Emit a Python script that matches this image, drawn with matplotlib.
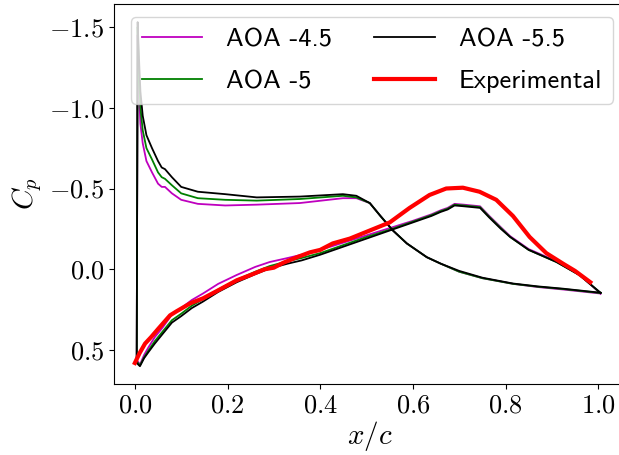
import matplotlib
matplotlib.use("Agg")
import matplotlib.pyplot as plt
import numpy as np

plt.rcParams['font.family'] = 'serif'
plt.rcParams['font.serif'] = ['cmr10']
plt.rcParams['mathtext.fontset'] = 'cm'
plt.rcParams['axes.formatter.use_mathtext'] = True
plt.rcParams['axes.unicode_minus'] = True

# suction side (x from leading-edge peak to trailing edge)
x_a = [0.006, 0.009, 0.012, 0.017, 0.025, 0.037, 0.05, 0.058, 0.065, 0.08, 0.1, 0.136,
       0.195, 0.263, 0.356, 0.449, 0.478, 0.507, 0.53, 0.557, 0.587, 0.63, 0.66, 0.7, 0.75,
       0.816, 0.87, 0.924, 1.005]
cp_a_45 = [-1.45, -1.1, -0.9, -0.78, -0.67, -0.6, -0.53, -0.51, -0.51, -0.47, -0.43, -0.405,
           -0.395, -0.4, -0.41, -0.44, -0.44, -0.41, -0.33, -0.24, -0.16, -0.075, -0.035, 0.015,
           0.055, 0.09, 0.11, 0.125, 0.15]
cp_a_5 = [-1.5, -1.2, -1.0, -0.86, -0.75, -0.68, -0.6, -0.57, -0.56, -0.52, -0.47, -0.44,
          -0.43, -0.425, -0.435, -0.455, -0.445, -0.41, -0.33, -0.24, -0.16, -0.075, -0.035,
          0.015, 0.055, 0.09, 0.108, 0.122, 0.147]
cp_a_55 = [-1.53, -1.3, -1.1, -0.95, -0.83, -0.75, -0.67, -0.63, -0.62, -0.57, -0.51, -0.48,
           -0.465, -0.445, -0.45, -0.465, -0.455, -0.41, -0.33, -0.24, -0.16, -0.075, -0.035,
           0.01, 0.052, 0.088, 0.106, 0.12, 0.145]

# pressure side (x from stagnation point to trailing edge)
x_b = [0.004, 0.011, 0.02, 0.03, 0.043, 0.06, 0.08, 0.1, 0.123, 0.147, 0.18, 0.22, 0.26,
       0.291, 0.33, 0.36, 0.4, 0.45, 0.5, 0.55, 0.6, 0.64, 0.66, 0.675, 0.69, 0.71, 0.745,
       0.765, 0.79, 0.81, 0.85, 0.91, 0.96, 1.005]
cp_b_45 = [0.56, 0.59, 0.53, 0.48, 0.42, 0.36, 0.28, 0.24, 0.19, 0.15, 0.09, 0.035, -0.015,
           -0.045, -0.07, -0.09, -0.12, -0.165, -0.21, -0.255, -0.3, -0.34, -0.365, -0.38,
           -0.405, -0.4, -0.39, -0.33, -0.26, -0.205, -0.125, -0.05, 0.035, 0.15]
cp_b_5 = [0.57, 0.595, 0.545, 0.5, 0.445, 0.385, 0.315, 0.275, 0.225, 0.185, 0.125, 0.065,
          0.015, -0.02, -0.05, -0.07, -0.1, -0.15, -0.2, -0.245, -0.295, -0.335, -0.36, -0.375,
          -0.4, -0.395, -0.385, -0.325, -0.255, -0.2, -0.12, -0.045, 0.036, 0.147]
cp_b_55 = [0.58, 0.6, 0.55, 0.51, 0.46, 0.4, 0.33, 0.29, 0.24, 0.2, 0.14, 0.08, 0.03,
           -0.005, -0.035, -0.055, -0.09, -0.14, -0.19, -0.24, -0.29, -0.33, -0.355, -0.37,
           -0.395, -0.39, -0.38, -0.32, -0.25, -0.2, -0.12, -0.045, 0.037, 0.145]

# experimental data
x_exp = [0.0, 0.01, 0.022, 0.035, 0.05, 0.076, 0.09, 0.12, 0.147, 0.18, 0.22, 0.25, 0.28,
         0.3, 0.32, 0.35, 0.378, 0.4, 0.427, 0.464, 0.507, 0.55, 0.593, 0.636, 0.672, 0.708,
         0.744, 0.78, 0.816, 0.852, 0.888, 0.924, 0.95, 0.983]
cp_exp = [0.58, 0.52, 0.46, 0.42, 0.37, 0.285, 0.26, 0.21, 0.18, 0.13, 0.068, 0.035, 0.0,
          -0.01, -0.04, -0.075, -0.105, -0.12, -0.16, -0.19, -0.24, -0.29, -0.38, -0.46, -0.5,
          -0.505, -0.48, -0.43, -0.33, -0.2, -0.1, -0.035, 0.01, 0.08]

fig = plt.figure(figsize=(6.19, 4.55), dpi=100)
ax = fig.add_axes([114 / 619, 71 / 455, 512 / 619, 380 / 455])

series = [(cp_a_45, cp_b_45, 'm', 'AOA -4.5'),
          (cp_a_5, cp_b_5, 'g', 'AOA -5'),
          (cp_a_55, cp_b_55, 'k', 'AOA -5.5')]
for cp_a, cp_b, col, lab in series:
    xs = x_a[::-1] + x_b
    ys = cp_a[::-1] + cp_b
    ax.plot(xs, ys, color=col, lw=1.3, label=lab)
ax.plot(x_exp, cp_exp, color='r', lw=3, label='Experimental')

ax.set_xlim(-0.045, 1.06)
ax.set_ylim(0.71, -1.642)
ax.set_xticks([0.0, 0.2, 0.4, 0.6, 0.8, 1.0])
ax.set_yticks([-1.5, -1.0, -0.5, 0.0, 0.5])
ax.tick_params(labelsize=19)
ax.set_xlabel('$x/c$', fontsize=21, labelpad=1)
ax.set_ylabel('$C_p$', fontsize=21)
ax.legend(ncol=2, loc='upper right', prop={'family': 'cmss10', 'size': 19},
          handlelength=2.3, handletextpad=0.9, labelspacing=0.7, columnspacing=1.6)

fig.savefig('out.png', dpi=100)
